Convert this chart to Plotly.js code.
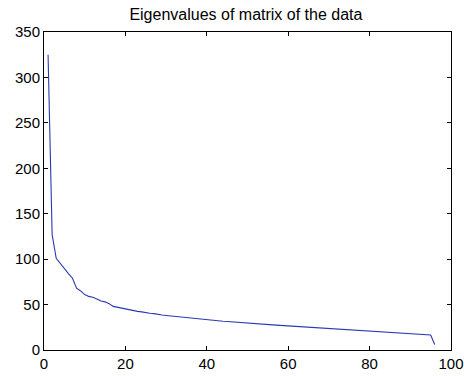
<!DOCTYPE html>
<html><head><meta charset="utf-8">
<script src="https://cdn.plot.ly/plotly-3.0.1.min.js"></script>
<style>html,body{margin:0;padding:0;background:#fff}#chart{width:464px;height:376px}</style>
</head><body><div id="chart"></div>
<script>
const index = Array.from({length: 96}, (_, i) => i + 1);
const eigenvalues = [
  325, 127, 101, 95, 89, 84, 79, 68, 65, 61,
  59, 58, 56, 54, 53, 51, 48, 47, 46, 45,
  44, 43.5, 42.5, 42, 41, 40.5, 40, 39, 38.5, 38,
  37.5, 37, 36.5, 36, 35.5, 35, 34.5, 34, 33.5, 33,
  32.7, 32.3, 32, 31.7, 31.4, 31, 30.6, 30.2, 29.8, 29.5,
  29.2, 28.9, 28.6, 28.3, 28, 27.7, 27.4, 27.1, 26.8, 26.5,
  26.2, 25.9, 25.6, 25.3, 25, 24.7, 24.4, 24.1, 23.8, 23.5,
  23.2, 22.9, 22.6, 22.3, 22, 21.8, 21.5, 21.2, 21, 20.7,
  20.5, 20.3, 20.1, 19.9, 19.6, 19.3, 19, 18.7, 18.4, 18.1,
  17.8, 17.5, 17.2, 16.9, 16.6, 6
];
const titleText = "Eigenvalues of matrix of the data";

const axisCommon = {
  showgrid: false, zeroline: false, showline: true, linecolor: '#000', linewidth: 1,
  mirror: 'ticks', ticks: 'inside', ticklen: 4, tickcolor: '#000', tickwidth: 1,
  tickfont: {family: 'Liberation Sans, Arial, sans-serif', size: 15, color: '#000'}
};
Plotly.newPlot('chart', [{
  x: index, y: eigenvalues, type: 'scatter', mode: 'lines',
  line: {color: 'rgb(40,58,178)', width: 1.1}
}], {
  width: 464, height: 376,
  margin: {l: 44, r: 13, t: 32, b: 26},
  paper_bgcolor: '#fff', plot_bgcolor: '#fff',
  showlegend: false,
  title: {text: titleText, x: 0.530, xanchor: 'center', y: 0.962, yanchor: 'middle',
          font: {family: 'Liberation Sans, Arial, sans-serif', size: 16, color: '#000'}},
  xaxis: Object.assign({range: [0, 100], tickvals: [0, 20, 40, 60, 80, 100]}, axisCommon),
  yaxis: Object.assign({range: [0, 350], tickvals: [0, 50, 100, 150, 200, 250, 300, 350]}, axisCommon)
}, {staticPlot: true, displayModeBar: false});
</script></body></html>
